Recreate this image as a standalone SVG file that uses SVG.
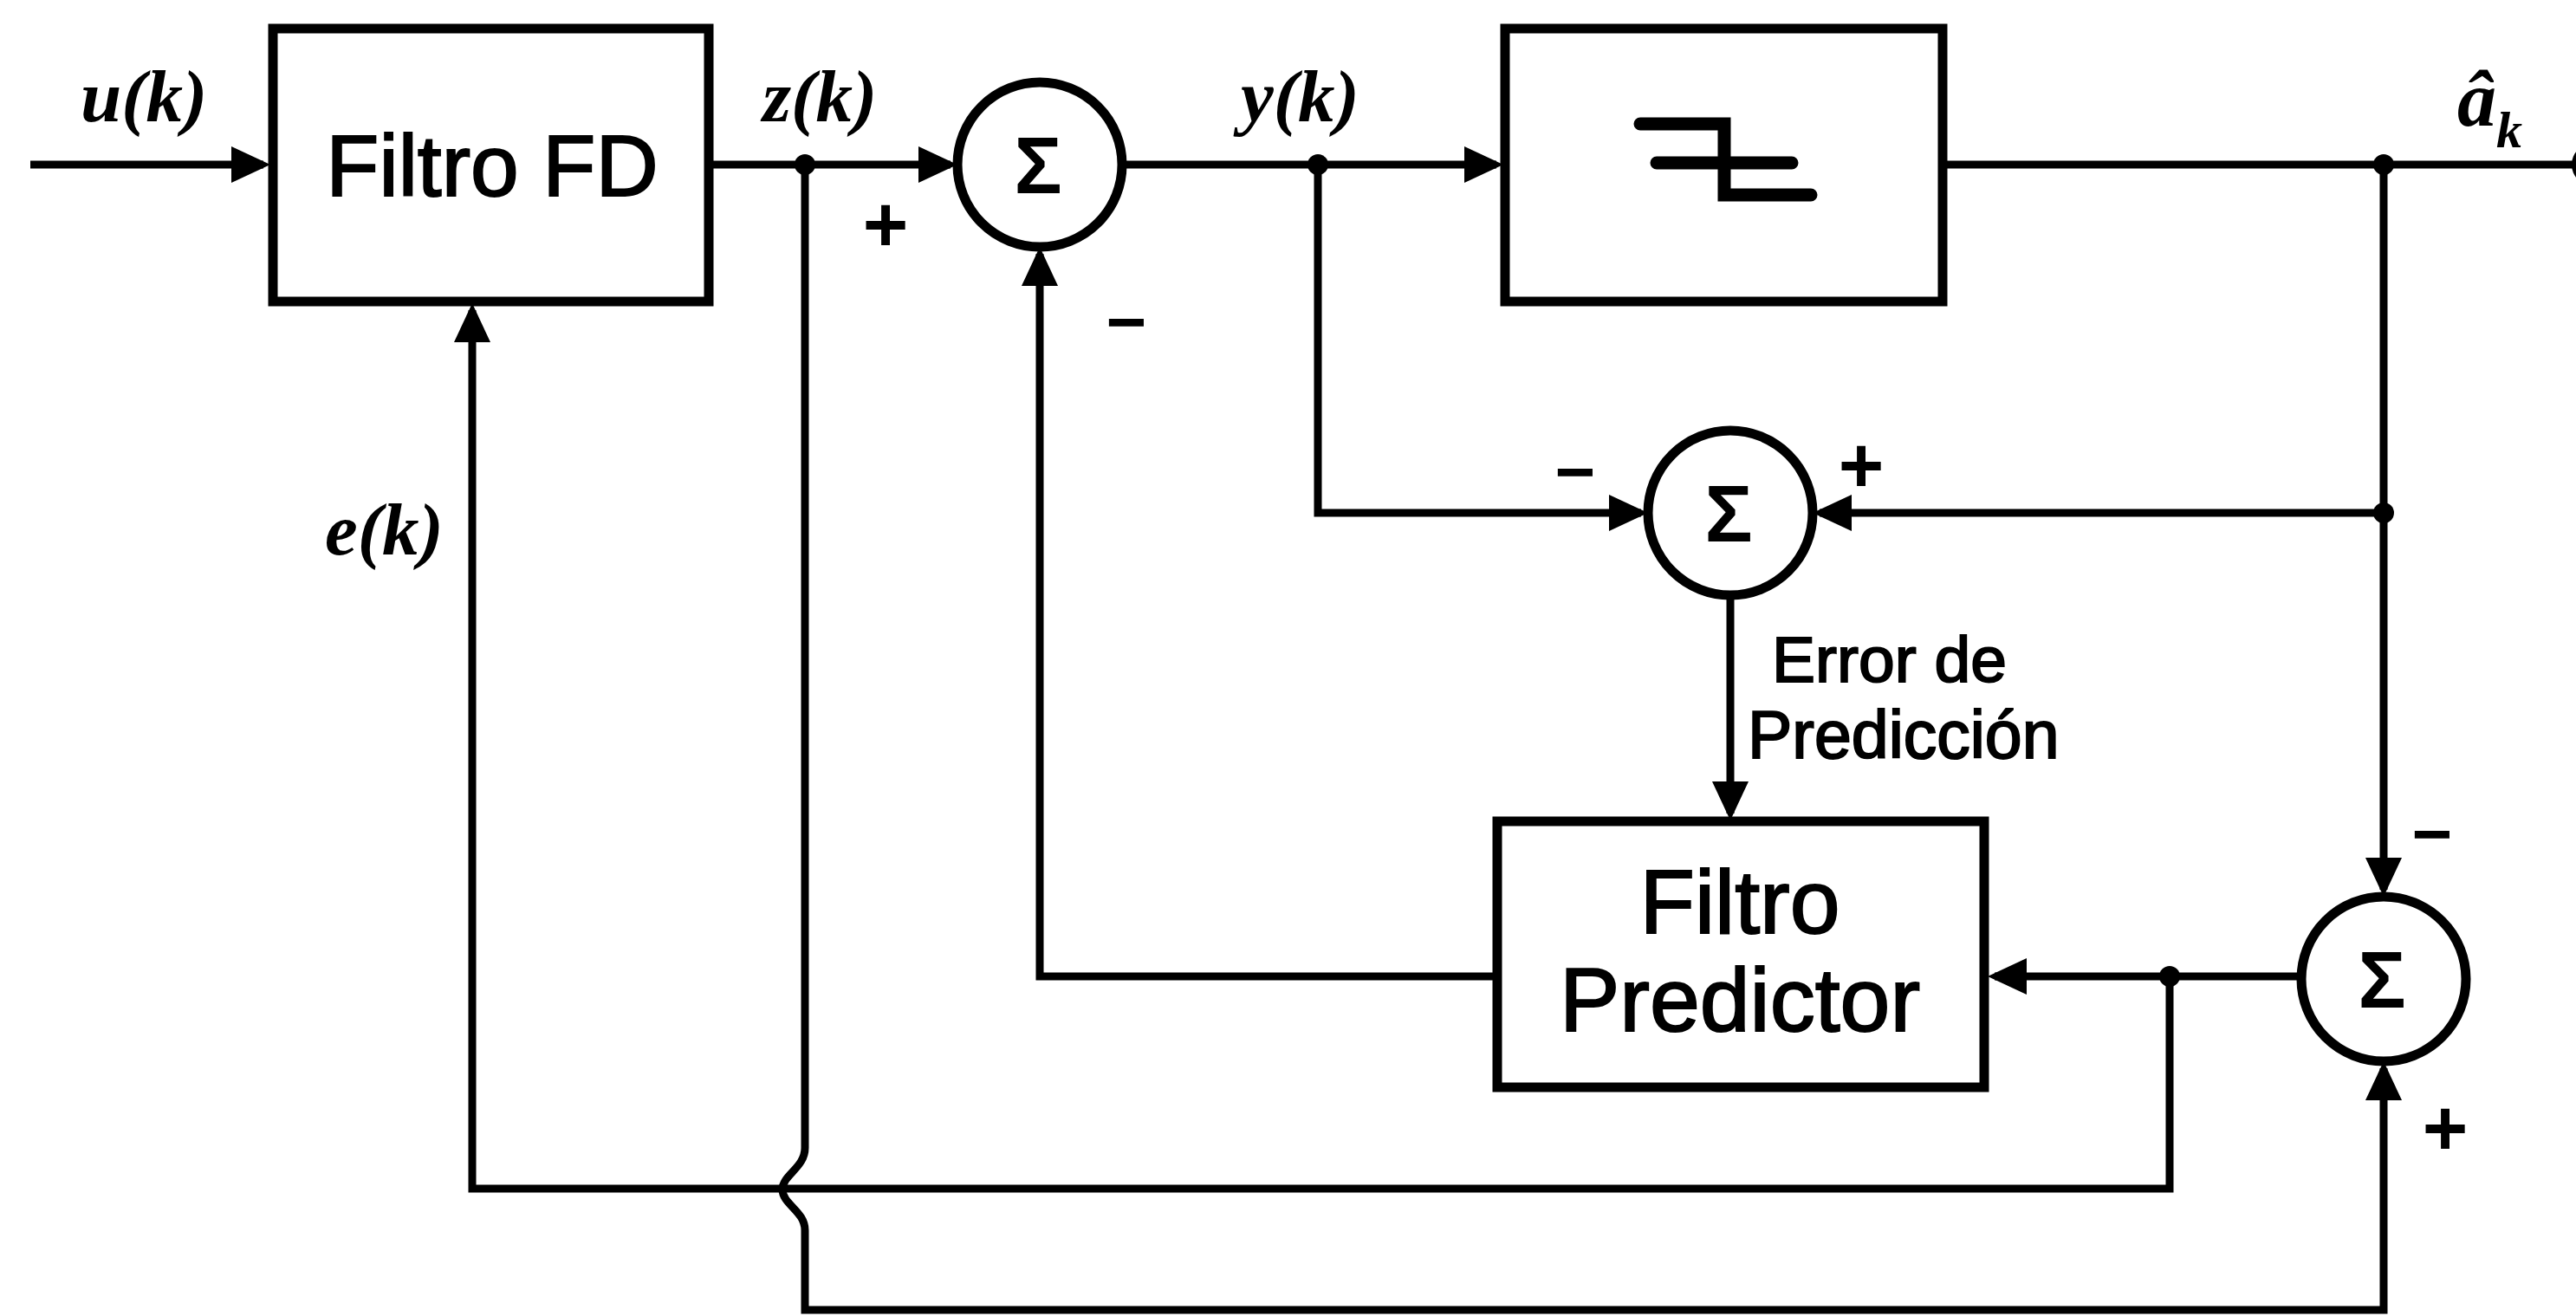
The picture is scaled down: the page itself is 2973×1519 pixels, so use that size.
<svg xmlns="http://www.w3.org/2000/svg" width="2973" height="1519" viewBox="0 0 2973 1519">
<style>
.bg{fill:#ffffff}
.box{fill:none;stroke:#000;stroke-width:11}
.sum{fill:#fff;stroke:#000;stroke-width:11}
.wire{fill:none;stroke:#000;stroke-width:9;stroke-linejoin:miter}
.dot{fill:#000}
.lbl{font-family:"Liberation Sans",Arial,sans-serif;fill:#000;stroke:#000;stroke-width:2}
.sigma{font-family:"Liberation Sans",Arial,sans-serif;font-weight:bold;fill:#000;text-anchor:middle}
.var{font-family:"Liberation Serif","Times New Roman",serif;font-style:italic;font-weight:bold;fill:#000}
.sig{font-family:"Liberation Sans",Arial,sans-serif;font-weight:bold;fill:#000;text-anchor:middle}
.quant{fill:none;stroke:#000;stroke-width:15;stroke-linecap:round;stroke-linejoin:miter}
</style>
<defs>
<marker id="arr" viewBox="0 0 45 42" refX="37" refY="21" markerWidth="45" markerHeight="42" orient="auto" markerUnits="userSpaceOnUse">
<path d="M0,0 L45,21 L0,42 Z" fill="#000"/>
</marker>
</defs>
<rect class="bg" x="0" y="0" width="2973" height="1519"/>

<g id="connectors">
<path class="wire" d="M35,190 H304" marker-end="url(#arr)"/>
<path class="wire" d="M818,190 H1097" marker-end="url(#arr)"/>
<path class="wire" d="M1295,190 H1727" marker-end="url(#arr)"/>
<path class="wire" d="M2242,190 H2973"/>
<path class="wire" d="M1521,190 V592 H1894" marker-end="url(#arr)"/>
<path class="wire" d="M2751,190 V1027" marker-end="url(#arr)"/>
<path class="wire" d="M2751,592 H2100" marker-end="url(#arr)"/>
<path class="wire" d="M1997,687 V939" marker-end="url(#arr)"/>
<path class="wire" d="M1726,1127 H1200 V293" marker-end="url(#arr)"/>
<path class="wire" d="M2656,1127 H2302" marker-end="url(#arr)"/>
<path class="wire" d="M2504,1127 V1372 H545 V358" marker-end="url(#arr)"/>
<path class="wire" d="M929,190 V1325 C929,1348 903,1356 903,1373 C903,1390 929,1398 929,1420 V1512 H2751 V1233" marker-end="url(#arr)"/>
<circle class="dot" cx="929" cy="190" r="12"/>
<circle class="dot" cx="1521" cy="190" r="12"/>
<circle class="dot" cx="2751" cy="190" r="12"/>
<circle class="dot" cx="2751" cy="592" r="12"/>
<circle class="dot" cx="2504" cy="1127" r="12"/>
<circle class="dot" cx="2992" cy="190" r="24"/>
</g>

<g id="filtro-fd">
<rect class="box" x="315" y="33" width="503" height="315"/>
<text class="lbl" x="568" y="226" font-size="100" text-anchor="middle">Filtro FD</text>
</g>

<g id="decisor">
<rect class="box" x="1737" y="33" width="505" height="315"/>
<path class="quant" d="M1893,143 H1990 V225 H2090 M1912,188 H2068"/>
</g>

<g id="filtro-predictor">
<rect class="box" x="1728" y="948" width="562" height="307"/>
<text class="lbl" x="2008" y="1077" font-size="104" text-anchor="middle">Filtro</text>
<text class="lbl" x="2008" y="1190" font-size="104" text-anchor="middle">Predictor</text>
</g>

<g id="sum1">
<circle class="sum" cx="1200" cy="190" r="95"/>
<text class="sigma" x="1198" y="223" font-size="92">Σ</text>
</g>

<g id="sum2">
<circle class="sum" cx="1997" cy="592" r="95"/>
<text class="sigma" x="1995" y="625" font-size="92">Σ</text>
</g>

<g id="sum3">
<circle class="sum" cx="2751" cy="1130" r="95"/>
<text class="sigma" x="2749" y="1163" font-size="92">Σ</text>
</g>

<g id="labels">
<text class="var" x="93" y="140" font-size="85">u(k)</text>
<text class="var" x="880" y="140" font-size="85">z(k)</text>
<text class="var" x="1432" y="140" font-size="85">y(k)</text>
<text class="var" x="375" y="640" font-size="85">e(k)</text>
<text class="var" x="2836" y="145" font-size="90">â<tspan font-size="60" dy="25">k</tspan></text>
<text class="lbl" x="2045" y="787" font-size="75">Error de</text>
<text class="lbl" x="2017" y="875" font-size="77">Predicción</text>
<text class="sig" x="1022" y="290" font-size="90">+</text>
<text class="sig" x="1300" y="399" font-size="80">−</text>
<text class="sig" x="1818" y="572" font-size="80">−</text>
<text class="sig" x="2148" y="568" font-size="90">+</text>
<text class="sig" x="2807" y="990" font-size="80">−</text>
<text class="sig" x="2822" y="1333" font-size="90">+</text>
</g>
</svg>
